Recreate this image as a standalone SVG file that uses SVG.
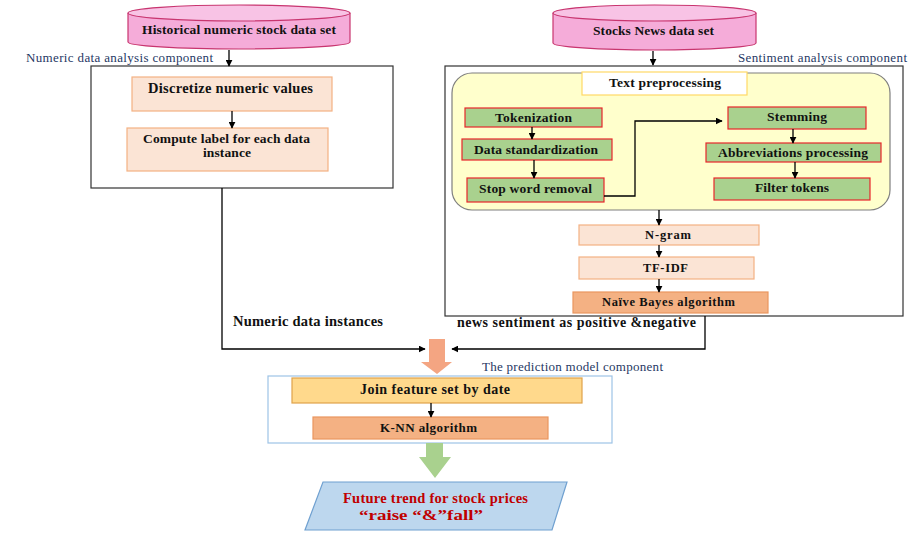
<svg xmlns="http://www.w3.org/2000/svg" width="919" height="539" viewBox="0 0 919 539">
<defs>
<marker id="ah" viewBox="0 0 10 10" refX="9" refY="5" markerWidth="7" markerHeight="7" markerUnits="userSpaceOnUse" orient="auto"><path d="M0,0 L10,5 L0,10 z" fill="#000"/></marker>
<style>
.t{font-family:"Liberation Serif","Times New Roman",serif;font-weight:bold;fill:#111;text-anchor:middle}
.lbl{font-family:"Liberation Serif","Times New Roman",serif;fill:#1f3864;font-size:13px}
.cyl{fill:#f5acd9;stroke:#c8356f;stroke-width:1.2}
.cyltop{fill:#f8c3e5;stroke:#c8356f;stroke-width:1.2}
.pale{fill:#fbe4d5;stroke:#f4b183;stroke-width:1.2}
.green{fill:#a9d18e;stroke:#e8262a;stroke-width:1.2}
.salmon{fill:#f4b183;stroke:#e9965f;stroke-width:1.2}
.comp{fill:#fff;stroke:#333;stroke-width:1.2}
.ln{fill:none;stroke:#000;stroke-width:1.3}
.red{fill:#c00000}
</style>
</defs>

<g id="hist-dataset">
<path class="cyl" d="M128,13 L128,42 A111,7 0 0 0 350,42 L350,13"/>
<ellipse class="cyltop" cx="239" cy="13" rx="111" ry="8"/>
<text class="t" x="239" y="34" font-size="13.5" textLength="194">Historical numeric stock data set</text>
</g>

<g id="news-dataset">
<path class="cyl" d="M553,13 L553,43 A101.5,7 0 0 0 756,43 L756,13"/>
<ellipse class="cyltop" cx="654.5" cy="13" rx="101.5" ry="8"/>
<text class="t" x="653.5" y="35" font-size="13.5" textLength="121">Stocks News data set</text>
</g>

<g id="numeric-component">
<text class="lbl" x="26" y="62" textLength="187">Numeric data analysis component</text>
<rect class="comp" x="91" y="66" width="302" height="122"/>
</g>

<g id="discretize">
<rect class="pale" x="132" y="77" width="200" height="34"/>
<text class="t" x="230.5" y="93" font-size="14.5" textLength="165">Discretize numeric values</text>
</g>

<g id="compute-label">
<rect class="pale" x="127" y="128" width="201" height="43"/>
<text class="t" x="226.5" y="143" font-size="13.5" textLength="167">Compute label for each data</text>
<text class="t" x="227" y="157" font-size="13.5" textLength="48">instance</text>
</g>

<g id="sentiment-component">
<text class="lbl" x="738" y="62" textLength="169">Sentiment analysis component</text>
<rect class="comp" x="445" y="66" width="458" height="250" stroke="#555"/>
<rect x="452" y="73" width="438" height="137" rx="20" ry="20" fill="#ffffcc" stroke="#7f7f7f" stroke-width="1.2"/>
</g>

<g id="text-preprocessing">
<rect x="582" y="72" width="165" height="23" fill="#fff" stroke="#ffd966" stroke-width="1.2"/>
<text class="t" x="665" y="87" font-size="13.5" textLength="112">Text preprocessing</text>
</g>

<g id="tokenization">
<rect class="green" x="465" y="108" width="137" height="19"/>
<text class="t" x="533.5" y="122" font-size="13.5" textLength="77">Tokenization</text>
</g>
<g id="data-standardization">
<rect class="green" x="462" y="139" width="150" height="21"/>
<text class="t" x="536" y="154" font-size="13.5" textLength="124">Data standardization</text>
</g>
<g id="stop-word-removal">
<rect class="green" x="467" y="178" width="137" height="24"/>
<text class="t" x="535.5" y="193" font-size="13.5" textLength="113">Stop word removal</text>
</g>
<g id="stemming">
<rect class="green" x="728" y="107" width="138" height="22"/>
<text class="t" x="797" y="121" font-size="13.5" textLength="60">Stemming</text>
</g>
<g id="abbreviations">
<rect class="green" x="706" y="143" width="175" height="19"/>
<text class="t" x="793" y="157" font-size="13.5" textLength="150">Abbreviations processing</text>
</g>
<g id="filter-tokens">
<rect class="green" x="714" y="178" width="156" height="22"/>
<text class="t" x="792" y="192" font-size="13.5" textLength="74">Filter tokens</text>
</g>

<g id="ngram">
<rect class="pale" x="579" y="225" width="180" height="20"/>
<text class="t" x="668" y="239" font-size="12.5" textLength="46">N-gram</text>
</g>
<g id="tfidf">
<rect class="pale" x="579" y="257" width="175" height="22"/>
<text class="t" x="665.5" y="272" font-size="12.5" textLength="45">TF-IDF</text>
</g>
<g id="naive-bayes">
<rect class="salmon" x="573" y="292" width="195" height="21"/>
<text class="t" x="668.5" y="306" font-size="12.5" textLength="133">Naïve Bayes algorithm</text>
</g>

<g id="prediction-component">
<text class="lbl" x="482" y="371" textLength="181">The prediction model component</text>
<rect x="268" y="376" width="344" height="67" fill="#fff" stroke="#9dc3e6" stroke-width="1.2"/>
</g>
<g id="join">
<rect x="292" y="378" width="290" height="25" fill="#ffd98c" stroke="#e0a24a" stroke-width="1.2"/>
<text class="t" x="435" y="394" font-size="14" textLength="150">Join feature set by date</text>
</g>
<g id="knn">
<rect class="salmon" x="313" y="417" width="235" height="22" stroke="#d9603a"/>
<text class="t" x="428.5" y="432" font-size="13" textLength="97">K-NN algorithm</text>
</g>

<g id="future-trend">
<polygon points="323,482 567,482 552,530 305,530" fill="#bdd7ee" stroke="#6fa0d0" stroke-width="1.2"/>
<text class="t red" x="435.5" y="503" font-size="14.5" textLength="185">Future trend for stock prices</text>
<text class="t red" x="421" y="520" font-size="15" textLength="124" lengthAdjust="spacingAndGlyphs">“raise “&amp;”fall”</text>
</g>

<g id="labels">
<text class="t" x="233" y="326" font-size="14.5" style="text-anchor:start" textLength="150">Numeric data instances</text>
<text class="t" x="457" y="327" font-size="14" style="text-anchor:start" textLength="239">news sentiment as positive &amp;negative</text>
</g>

<g id="connectors">
<line class="ln" x1="229" y1="50" x2="229" y2="66" marker-end="url(#ah)"/>
<line class="ln" x1="653" y1="51" x2="653" y2="65" marker-end="url(#ah)"/>
<line class="ln" x1="232" y1="111" x2="232" y2="128" marker-end="url(#ah)"/>
<line class="ln" x1="532" y1="127" x2="532" y2="139" marker-end="url(#ah)"/>
<line class="ln" x1="534" y1="160" x2="534" y2="178" marker-end="url(#ah)"/>
<polyline class="ln" points="604,196 635,196 635,121 722,121" marker-end="url(#ah)"/>
<line class="ln" x1="793" y1="129" x2="793" y2="143" marker-end="url(#ah)"/>
<line class="ln" x1="795" y1="162" x2="795" y2="178" marker-end="url(#ah)"/>
<line class="ln" x1="659" y1="210" x2="659" y2="225" marker-end="url(#ah)"/>
<line class="ln" x1="659" y1="245" x2="659" y2="257" marker-end="url(#ah)"/>
<line class="ln" x1="659" y1="279" x2="659" y2="292" marker-end="url(#ah)"/>
<polyline class="ln" points="222,188 222,349 425,349" marker-end="url(#ah)"/>
<polyline class="ln" points="705,316 705,349 452,349" marker-end="url(#ah)"/>
<line class="ln" x1="431" y1="403" x2="431" y2="417" marker-end="url(#ah)"/>
<path d="M429,339 L445,339 L445,362 L452,362 L437,374 L421,362 L429,362 z" fill="#f4a582"/>
<path d="M426,443 L443,443 L443,457 L451,457 L435,478 L419,457 L426,457 z" fill="#a9d18e"/>
</g>
</svg>
